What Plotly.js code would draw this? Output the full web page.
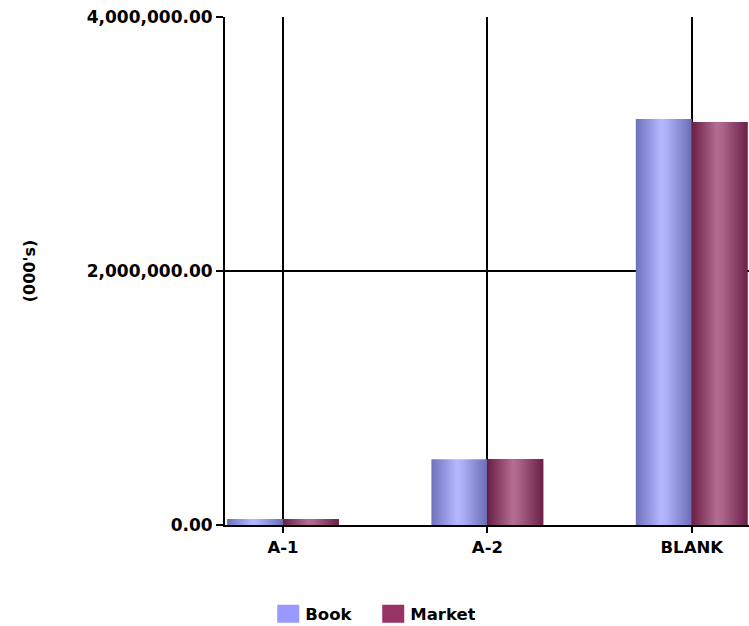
<!DOCTYPE html>
<html>
<head>
<meta charset="utf-8">
<script src="https://cdn.plot.ly/plotly-3.0.1.min.js"></script>
<style>html,body{margin:0;padding:0;background:#fff;}#chart{width:749px;height:626px;}</style>
</head>
<body>
<div id="chart"></div>
<script>
const categories = ['A-1', 'A-2', 'BLANK'];
const bookValues = [48000, 517000, 3197000];
const marketValues = [47000, 519000, 3173000];
const seriesNames = ['Book', 'Market'];
const yTickValues = [0, 2000000, 4000000];

const FONT = 'DejaVu Sans, Verdana, sans-serif';

const data = [
  {type: 'bar', name: seriesNames[0], x: categories, y: bookValues,
   marker: {color: '#9999ff', line: {width: 0}}},
  {type: 'bar', name: seriesNames[1], x: categories, y: marketValues,
   marker: {color: '#993366', line: {width: 0}}}
];

const layout = {
  width: 749, height: 626,
  margin: {l: 225, r: 0, t: 17, b: 101},
  paper_bgcolor: '#fff', plot_bgcolor: '#fff',
  font: {family: FONT, size: 16, color: '#000', weight: 'bold'},
  barmode: 'group', bargap: 0.452, bargroupgap: 0,
  showlegend: true,
  legend: {orientation: 'h', xref: 'container', x: 0.4943, xanchor: 'center',
           yref: 'container', y: 0.019, yanchor: 'middle',
           entrywidth: 60, entrywidthmode: 'pixels',
           font: {family: FONT, size: 16.5, weight: 'bold'}, itemclick: false},
  xaxis: {
    type: 'category', range: [-0.284, 2.28],
    showgrid: true, gridcolor: '#000', gridwidth: 2,
    showline: true, linecolor: '#000', linewidth: 2,
    ticks: 'outside', ticklen: 6, tickwidth: 2, tickcolor: '#000',
    tickfont: {family: FONT, size: 16.5, weight: 'bold'},
    fixedrange: true
  },
  yaxis: {
    range: [0, 4000000], tickvals: yTickValues, tickformat: ',.2f',
    showgrid: true, gridcolor: '#000', gridwidth: 2,
    zeroline: false,
    showline: true, linecolor: '#000', linewidth: 2,
    ticks: 'outside', ticklen: 7, tickwidth: 2, tickcolor: '#000',
    tickfont: {family: FONT, size: 17, weight: 'bold'},
    title: {text: "(000's)", standoff: 47, font: {family: FONT, size: 16, weight: 'bold'}},
    fixedrange: true
  }
};

const gradients = [
  [['0%', '#6e72bb'], ['45%', '#b4b6fe'], ['55%', '#adb0f8'], ['100%', '#6a6db4']],
  [['0%', '#6a1f46'], ['45%', '#b46c90'], ['55%', '#ac6488'], ['100%', '#6b2047']]
];

const gd = document.getElementById('chart');
Plotly.newPlot(gd, data, layout, {staticPlot: true, displayModeBar: false}).then(function () {
  const ns = 'http://www.w3.org/2000/svg';
  const svg = gd.querySelector('svg.main-svg');
  let defs = svg.querySelector('defs');
  if (!defs) { defs = document.createElementNS(ns, 'defs'); svg.insertBefore(defs, svg.firstChild); }
  gradients.forEach(function (stops, i) {
    const g = document.createElementNS(ns, 'linearGradient');
    g.setAttribute('id', 'barGrad' + i);
    g.setAttribute('x1', '0'); g.setAttribute('y1', '0');
    g.setAttribute('x2', '1'); g.setAttribute('y2', '0');
    stops.forEach(function (s) {
      const st = document.createElementNS(ns, 'stop');
      st.setAttribute('offset', s[0]);
      st.setAttribute('stop-color', s[1]);
      g.appendChild(st);
    });
    defs.appendChild(g);
  });
  gd.querySelectorAll('.barlayer .trace').forEach(function (t, i) {
    t.querySelectorAll('path').forEach(function (p) { p.style.fill = 'url(#barGrad' + i + ')'; });
  });
  gd.querySelectorAll('.legend .legendpoints path').forEach(function (p) {
    p.setAttribute('d', 'M14,9H-8V-9H14Z');
  });
});
</script>
</body>
</html>
